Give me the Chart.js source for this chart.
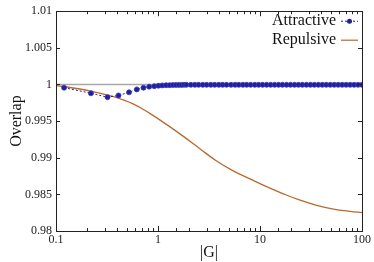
<!DOCTYPE html>
<html>
<head>
<meta charset="utf-8">
<script src="https://cdn.jsdelivr.net/npm/chart.js@4/dist/chart.umd.min.js"></script>
<style>
  html, body { margin: 0; padding: 0; background: #fff; }
  #c { display: block; }
</style>
</head>
<body>
<canvas id="c" width="374" height="262"></canvas>
<script>
// values
const attractiveX = [0.12, 0.22, 0.32, 0.41, 0.52, 0.62, 0.72, 0.82, 0.92, 1.01, 1.1, 1.2, 1.3, 1.4, 1.5, 1.6, 1.7, 1.8, 1.9,
  2.1, 2.3, 2.5, 2.75, 3.0, 3.3, 3.6, 3.95, 4.3, 4.7, 5.2, 5.7, 6.2, 6.8, 7.4, 8.1, 8.9, 9.7, 10.6, 11.6, 12.7, 13.9,
  15.2, 16.6, 18.2, 19.9, 21.8, 23.8, 26, 28.5, 31.2, 34.1, 37.3, 40.8, 44.6, 48.8, 53.4, 58.4, 63.9, 69.9, 76.5, 83.7, 91.5, 100];
const attractiveY = [0.99956, 0.9988, 0.99827, 0.9985, 0.99893, 0.99933, 0.99956, 0.9997, 0.99977, 0.99983, 0.99987, 0.9999, 0.99991, 0.99992, 0.99993, 0.99994, 0.99994, 0.99995, 0.99995,
  0.99995, 0.99995, 0.99995, 0.99995, 0.99995, 0.99995, 0.99995, 0.99995, 0.99995, 0.99995, 0.99995, 0.99995, 0.99995, 0.99995, 0.99995, 0.99995, 0.99995, 0.99995, 0.99995, 0.99995, 0.99995, 0.99995,
  0.99995, 0.99995, 0.99995, 0.99995, 0.99995, 0.99995, 0.99995, 0.99995, 0.99995, 0.99995, 0.99995, 0.99995, 0.99995, 0.99995, 0.99995, 0.99995, 0.99995, 0.99995, 0.99995, 0.99995, 0.99995, 0.99995];

const repulsiveX = [0.1, 0.12, 0.16, 0.23, 0.36, 0.57, 0.83, 1.21, 1.76, 2.57, 3.75, 5.46, 7.95, 11.6, 16.9, 24.7, 36, 52.5, 76.4, 100];
const repulsiveY = [0.99985, 0.9997, 0.99945, 0.99903, 0.99837, 0.99735, 0.99605, 0.99455, 0.99295, 0.99124, 0.98955, 0.9882, 0.98712, 0.98605, 0.98508, 0.98420, 0.98350, 0.98300, 0.98268, 0.98251];

const refX = [0.1, 100];
const refY = [1, 1];

const xMin = 0.1, xMax = 100;
const yMin = 0.98, yMax = 1.01, yStep = 0.005;

const legendNames = ['Attractive', 'Repulsive'];

const blue = '#20209a';
const brown = '#b8692e';
const frame = '#222';
const font = '"Liberation Serif", "DejaVu Serif", serif';

function pairs(xs, ys) {
    return xs.map((x, i) => ({ x: x, y: ys[i] }));
}

function isDecade(v) {
    const l = Math.log10(v);
    return Math.abs(l - Math.round(l)) < 1e-6;
}

// frame, inward ticks and the legend
const framePlugin = {
    id: 'framePlugin',
    afterDraw(chart) {
        const ctx = chart.ctx;
        const ca = chart.chartArea;
        const xs = chart.scales.x;
        const ys = chart.scales.y;
        ctx.save();
        ctx.strokeStyle = frame;
        ctx.lineWidth = 1;
        ctx.strokeRect(Math.round(ca.left) + 0.5, Math.round(ca.top) + 0.5,
            Math.round(ca.right - ca.left), Math.round(ca.bottom - ca.top));

        ctx.beginPath();
        xs.ticks.forEach(t => {
            const px = Math.round(xs.getPixelForValue(t.value)) + 0.5;
            const len = isDecade(t.value) ? 5 : 3;
            ctx.moveTo(px, ca.bottom); ctx.lineTo(px, ca.bottom - len);
            ctx.moveTo(px, ca.top); ctx.lineTo(px, ca.top + len);
        });
        ys.ticks.forEach(t => {
            const py = Math.round(ys.getPixelForValue(t.value)) + 0.5;
            ctx.moveTo(ca.left, py); ctx.lineTo(ca.left + 4, py);
            ctx.moveTo(ca.right, py); ctx.lineTo(ca.right - 4, py);
        });
        ctx.stroke();

        // legend
        ctx.font = '16px ' + font;
        ctx.fillStyle = '#111';
        ctx.textAlign = 'right';
        ctx.textBaseline = 'middle';
        const tx = ca.right - 26;
        const y1 = ca.top + 10;
        const y2 = ca.top + 29;
        ctx.fillText(legendNames[0], tx, y1);
        ctx.fillText(legendNames[1], tx, y2);

        ctx.strokeStyle = blue;
        ctx.lineWidth = 1;
        ctx.setLineDash([2, 2]);
        ctx.beginPath();
        ctx.moveTo(ca.right - 21, y1); ctx.lineTo(ca.right - 4, y1);
        ctx.stroke();
        ctx.setLineDash([]);
        ctx.fillStyle = blue;
        ctx.beginPath();
        ctx.arc(ca.right - 12.5, y1, 2.5, 0, Math.PI * 2);
        ctx.fill();

        ctx.strokeStyle = brown;
        ctx.lineWidth = 1.2;
        ctx.beginPath();
        ctx.moveTo(ca.right - 21, y2); ctx.lineTo(ca.right - 4, y2);
        ctx.stroke();
        ctx.restore();
    }
};

new Chart(document.getElementById('c'), {
    type: 'line',
    data: {
        datasets: [
            {
                label: 'ref',
                data: pairs(refX, refY),
                borderColor: '#a8a8a8',
                borderWidth: 1.5,
                pointRadius: 0,
                order: 3
            },
            {
                label: legendNames[1],
                data: pairs(repulsiveX, repulsiveY),
                borderColor: brown,
                borderWidth: 1.3,
                pointRadius: 0,
                tension: 0.4,
                order: 2
            },
            {
                label: legendNames[0],
                data: pairs(attractiveX, attractiveY),
                borderColor: blue,
                borderWidth: 1,
                borderDash: [2, 2],
                pointRadius: 2.5,
                pointBackgroundColor: blue,
                pointBorderColor: '#3a3ac0',
                pointBorderWidth: 0.8,
                order: 1
            }
        ]
    },
    options: {
        responsive: false,
        devicePixelRatio: 1,
        animation: false,
        layout: { padding: { top: 6, right: 12, left: 0, bottom: 0 } },
        plugins: {
            legend: { display: false },
            tooltip: { enabled: false }
        },
        scales: {
            x: {
                type: 'logarithmic',
                min: xMin,
                max: xMax,
                grid: { display: false, drawTicks: false },
                border: { display: false },
                afterFit: s => { s.height = 31; },
                ticks: {
                    autoSkip: false,
                    maxRotation: 0,
                    padding: 2,
                    color: '#222',
                    font: { family: font, size: 12 },
                    callback: v => isDecade(v) ? String(Number(v.toPrecision(3))) : ''
                },
                title: {
                    display: true,
                    text: '|G|',
                    color: '#111',
                    font: { family: font, size: 16 },
                    padding: { top: 0, bottom: 0 }
                }
            },
            y: {
                min: yMin,
                max: yMax,
                grid: { display: false, drawTicks: false },
                border: { display: false },
                afterFit: s => { s.width = 56; },
                ticks: {
                    stepSize: yStep,
                    padding: 4,
                    color: '#222',
                    font: { family: font, size: 12 },
                    callback: v => String(parseFloat(Number(v).toFixed(3)))
                },
                title: {
                    display: true,
                    text: 'Overlap',
                    color: '#111',
                    font: { family: font, size: 16 },
                    padding: { top: 7, bottom: 0 }
                }
            }
        }
    },
    plugins: [framePlugin]
});
</script>
</body>
</html>
